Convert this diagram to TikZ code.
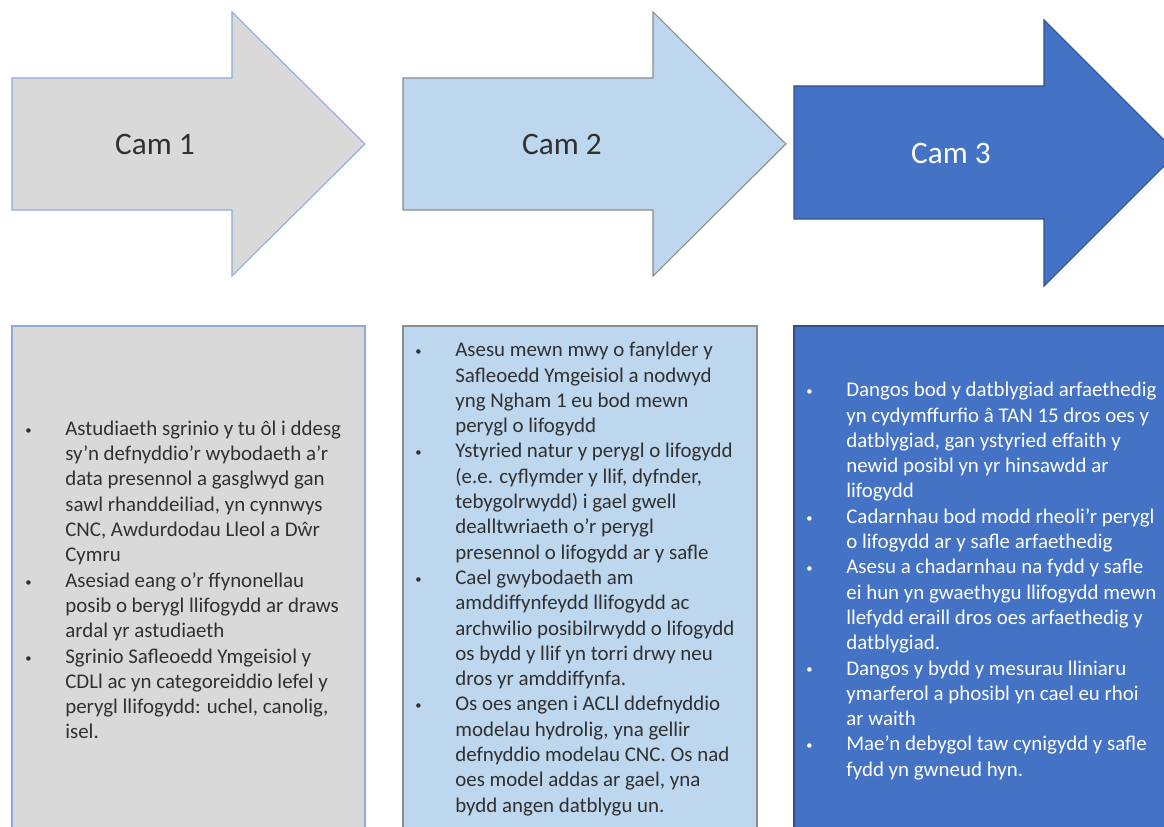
\documentclass[tikz,border=0pt]{standalone}
\usepackage{fontspec}
\setmainfont{Carlito}
\usepackage{xcolor}
\usepackage{tikz}
\usetikzlibrary{positioning}
\definecolor{camgrey}{HTML}{D9D9D9}
\definecolor{camlight}{HTML}{BDD7EE}
\definecolor{camdark}{HTML}{4472C4}
\definecolor{edgelight}{HTML}{8EA9DB}
\definecolor{edgegrey}{HTML}{8C8C8C}
\definecolor{edgedark}{HTML}{2F528F}
\definecolor{textgrey}{HTML}{303030}

\newcommand{\itembul}{\makebox[0.8cm][l]{\raisebox{0.05em}{\scalebox{0.6}{\textbullet}}}}
\newcommand{\itemind}{\hspace*{0.8cm}}

\begin{document}
\begin{tikzpicture}[x=0.02cm, y=-0.02cm]
    \tikzstyle{stageone} = [draw=edgelight, fill=camgrey, line width=0.6pt]
    \tikzstyle{stagetwo} = [draw=edgegrey, fill=camlight, line width=0.6pt]
    \tikzstyle{stagethree} = [draw=edgedark, fill=camdark, line width=0.6pt]
    \tikzstyle{camlabel} = [font=\fontsize{17.8}{21}\selectfont, text=textgrey]
    \tikzstyle{listtext} = [anchor=west, align=left, inner sep=0pt, font=\fontsize{11.9}{14.4}\selectfont, text=textgrey]

    \useasboundingbox (0,0) rectangle (1164,827);
    \clip (0,0) rectangle (1164,827);

    % arrows
    \draw [stageone] (12,78) -- (232,78) -- (232,12) -- (365,144) -- (232,276) -- (232,210) -- (12,210) -- cycle;
    \draw [stagetwo] (403,78) -- (653,78) -- (653,12) -- (786,144) -- (653,276) -- (653,210) -- (403,210) -- cycle;
    \draw [stagethree] (794,86) -- (1044,86) -- (1044,20) -- (1177,153) -- (1044,286) -- (1044,219) -- (794,219) -- cycle;

    \node (cam1) at (155,144) [camlabel] {Cam 1};
    \node (cam2) at (562,144) [camlabel] {Cam 2};
    \node (cam3) at (951,153) [camlabel, text=white] {Cam 3};

    % boxes
    \draw [stageone] (12,326) rectangle (365,845);
    \draw [stagetwo] (403,326) rectangle (757,845);
    \draw [stagethree] (794,326) rectangle (1185,845);

    \node (list1) at (25,580) [listtext] {%
        \itembul Astudiaeth sgrinio y tu ôl i ddesg\\
        \itemind sy’n defnyddio’r wybodaeth a’r\\
        \itemind data presennol a gasglwyd gan\\
        \itemind sawl rhanddeiliad, yn cynnwys\\
        \itemind CNC, Awdurdodau Lleol a Dŵr\\
        \itemind Cymru\\
        \itembul Asesiad eang o’r ffynonellau\\
        \itemind posib o berygl llifogydd ar draws\\
        \itemind ardal yr astudiaeth\\
        \itembul Sgrinio Safleoedd Ymgeisiol y\\
        \itemind CDLl ac yn categoreiddio lefel y\\
        \itemind perygl llifogydd: uchel, canolig,\\
        \itemind isel.};

    \node (list2) at (415,579) [listtext] {%
        \itembul Asesu mewn mwy o fanylder y\\
        \itemind Safleoedd Ymgeisiol a nodwyd\\
        \itemind yng Ngham 1 eu bod mewn\\
        \itemind perygl o lifogydd\\
        \itembul Ystyried natur y perygl o lifogydd\\
        \itemind (e.e. cyflymder y llif, dyfnder,\\
        \itemind tebygolrwydd) i gael gwell\\
        \itemind dealltwriaeth o’r perygl\\
        \itemind presennol o lifogydd ar y safle\\
        \itembul Cael gwybodaeth am\\
        \itemind amddiffynfeydd llifogydd ac\\
        \itemind archwilio posibilrwydd o lifogydd\\
        \itemind os bydd y llif yn torri drwy neu\\
        \itemind dros yr amddiffynfa.\\
        \itembul Os oes angen i ACLl ddefnyddio\\
        \itemind modelau hydrolig, yna gellir\\
        \itemind defnyddio modelau CNC. Os nad\\
        \itemind oes model addas ar gael, yna\\
        \itemind bydd angen datblygu un.};

    \node (list3) at (806,581) [listtext, text=white] {%
        \itembul Dangos bod y datblygiad arfaethedig\\
        \itemind yn cydymffurfio â TAN 15 dros oes y\\
        \itemind datblygiad, gan ystyried effaith y\\
        \itemind newid posibl yn yr hinsawdd ar\\
        \itemind lifogydd\\
        \itembul Cadarnhau bod modd rheoli’r perygl\\
        \itemind o lifogydd ar y safle arfaethedig\\
        \itembul Asesu a chadarnhau na fydd y safle\\
        \itemind ei hun yn gwaethygu llifogydd mewn\\
        \itemind llefydd eraill dros oes arfaethedig y\\
        \itemind datblygiad.\\
        \itembul Dangos y bydd y mesurau lliniaru\\
        \itemind ymarferol a phosibl yn cael eu rhoi\\
        \itemind ar waith\\
        \itembul Mae’n debygol taw cynigydd y safle\\
        \itemind fydd yn gwneud hyn.};
\end{tikzpicture}
\end{document}
